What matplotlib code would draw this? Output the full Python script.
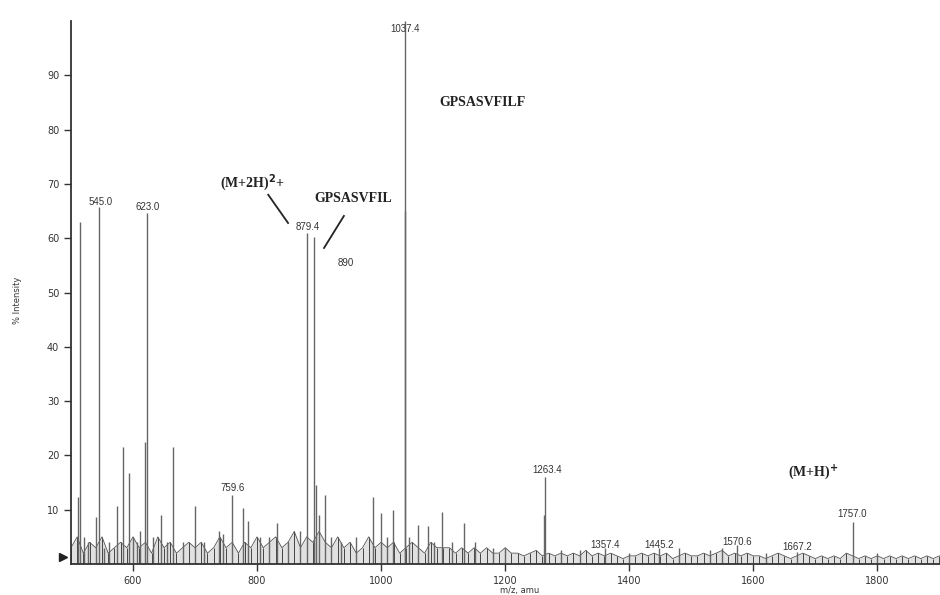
import numpy as np
import matplotlib.pyplot as plt

# peak list (m/z, % intensity)
peak_mz = [511, 515, 521, 528, 540, 545, 553, 562, 574, 584, 594, 600, 607, 612,
           620, 623, 632, 645, 655, 665, 680, 700, 715, 739, 745, 760, 777, 785,
           805, 820, 832, 850, 870, 880, 892, 895, 900, 910, 920, 935, 960, 987,
           1000, 1010, 1019, 1038, 1038.5, 1045, 1060, 1076, 1085, 1098, 1115,
           1134, 1152, 1180, 1200, 1262, 1264, 1290, 1320, 1361, 1400, 1448,
           1480, 1530, 1550, 1574, 1620, 1671, 1760, 1800]
peak_int = [12.3, 63, 5, 4, 8.7, 65.7, 3, 4, 10.7, 21.5, 16.7, 5, 4, 6,
            22.5, 64.6, 5, 9, 4, 21.5, 4, 10.7, 4, 6, 5.5, 12.7, 10.3, 8,
            5, 5, 7.6, 4, 6, 61, 60.2, 14.5, 9, 12.7, 5, 4, 5, 12.3,
            9.4, 5, 10, 65, 100, 5, 7.2, 7, 4, 9.6, 4,
            7.5, 4, 3, 3, 9, 16, 2.5, 2.5, 3, 2, 3,
            3, 2.5, 3, 3.5, 2, 2.2, 7.7, 2]

# baseline noise level every 10 amu from 500 to 1900
noise_mz = np.arange(500, 1901, 10)
noise_int = [3, 5, 2, 4, 3, 5, 2, 3, 4, 3, 5,
             3, 4, 2, 5, 3, 4, 2, 3, 4, 3,
             4, 2, 3, 5, 3, 4, 2, 4, 3, 5,
             3, 4, 5, 3, 4, 6, 3, 5, 4, 6,
             4, 3, 5, 3, 4, 2, 3, 5, 3, 4,
             3, 4, 2, 3, 4, 3, 2, 4, 3, 3,
             3, 2, 3, 2, 3, 2, 3, 2, 2, 3,
             2, 2, 1.5, 2, 2.5, 1.5, 2, 1.5, 2, 1.5,
             2, 1.5, 2.5, 1.5, 2, 1.5, 2, 1.5, 1, 1.5,
             1.5, 2, 1.5, 2, 1.5, 2, 1, 1.5, 2, 1.5,
             1.5, 2, 1.5, 2, 2.5, 1.5, 2, 1.5, 2, 1.5,
             1.5, 1, 1.5, 2, 1.5, 1, 1.5, 2, 1.5, 1,
             1.5, 1, 1.5, 1, 2, 1.5, 1, 1.5, 1, 1.5,
             1, 1.5, 1, 1.5, 1, 1.5, 1, 1.5, 1, 1.5]

# peak labels
lab_text = ['545.0', '623.0', '1037.4', '879.4', '890', '759.6', '1263.4',
            '1357.4', '1445.2', '1570.6', '1667.2', '1757.0']
lab_x = [547, 623, 1039, 882, 943, 760, 1267, 1361, 1448, 1574, 1671, 1760]
lab_y = [66.7, 65.7, 98.5, 62, 55.4, 14, 17.3, 3.5, 3.5, 4, 3.1, 9.2]

fig = plt.figure(figsize=(9.4, 5.95), dpi=100)
ax = fig.add_axes([0.0755, 0.0521, 0.9245, 0.9126])

ax.fill_between(noise_mz, 0, noise_int, color='#aaaaaa', alpha=0.35, lw=0)
ax.vlines(noise_mz, 0, noise_int, color='#444444', lw=0.7)
ax.plot(noise_mz, noise_int, color='#555555', lw=0.6)
ax.vlines(peak_mz, 0, peak_int, color='#666666', lw=1.0)

for t, x, y in zip(lab_text, lab_x, lab_y):
    ax.text(x, y, t, ha='center', va='center', fontsize=7, color='#333333',
            family='Liberation Sans')

serif = dict(family='Liberation Serif', fontweight='bold', fontsize=10, color='#222222')
ax.text(792, 70.2, '(M+2H)$^{\\mathbf{2}}$+', ha='center', va='center', **serif)
ax.text(955, 67.4, 'GPSASVFIL', ha='center', va='center', **serif)
ax.text(1163, 84.9, 'GPSASVFILF', ha='center', va='center', **serif)
ax.text(1697, 17, '(M+H)$^{\\mathbf{+}}$', ha='center', va='center', **serif)
ax.plot([818, 850], [68, 62.8], color='#222222', lw=1.3)
ax.plot([940, 908], [64.1, 58.2], color='#222222', lw=1.3)

ax.plot([487], [1.3], marker='>', color='#222222', ms=6, clip_on=False)

ax.set_xlim(500, 1901)
ax.set_ylim(0, 100)
ax.spines['top'].set_visible(False)
ax.spines['right'].set_visible(False)
for s in ['left', 'bottom']:
    ax.spines[s].set_color('#333333')
    ax.spines[s].set_linewidth(1.3)
ax.set_xticks([600, 800, 1000, 1200, 1400, 1600, 1800])
ax.set_yticks([10, 20, 30, 40, 50, 60, 70, 80, 90])
ax.tick_params(length=5, width=1, color='#333333', labelsize=7, labelcolor='#333333')

fig.text(520 / 940, 1 - 590 / 595, 'm/z, amu', ha='center', va='center',
         fontsize=6, color='#333333')
fig.text(18 / 940, 1 - 300 / 595, '% Intensity', ha='center', va='center',
         rotation=90, fontsize=6, color='#333333')

plt.savefig('out.png')
plt.close()
